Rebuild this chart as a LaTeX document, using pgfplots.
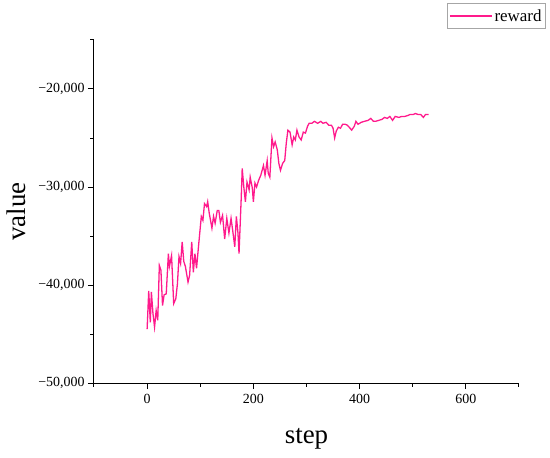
\documentclass[border=0pt]{standalone}
\usepackage{fontspec}
\setmainfont{Liberation Serif}
\usepackage{pgfplots}
\pgfplotsset{compat=1.18}
\definecolor{cReward}{HTML}{FF1A8C}

\begin{document}
\begin{tikzpicture}
\begin{axis}[
    name=ax,
    scale only axis,
    width=425bp, height=343bp,
    xmin=-100, xmax=700,
    ymin=-50000, ymax=-15000,
    axis lines=left,
    axis line style={-, line width=1pt},
    tick align=outside,
    major tick length=6bp,
    minor tick length=3.5bp,
    tick style={line width=1pt, black},
    xtick={0,200,400,600},
    minor xtick={-100,100,300,500,700},
    ytick={-50000,-40000,-30000,-20000},
    yticklabels={{−50,000},{−40,000},{−30,000},{−20,000}},
    scaled y ticks=false,
    minor ytick={-45000,-35000,-25000,-15000},
    /pgf/number format/assume math mode=true,
    ticklabel style={font=\fontsize{14}{16}\selectfont},
    xticklabel style={yshift=-2bp},
    xlabel={step},
    ylabel={value},
    label style={font=\fontsize{27}{30}\selectfont},
    xlabel style={at={(axis description cs:0.5,-0.175)}, anchor=base},
    ylabel style={at={(axis description cs:-0.162,0.5)}, anchor=base},
    legend style={at={(1.0635,1.108)}, anchor=north east,
        draw=gray!70, line width=0.8pt, font=\fontsize{17}{19}\selectfont,
        inner xsep=2bp, inner ysep=4bp},
    legend image code/.code={\draw[cReward, line width=1.3pt] (-2bp,0bp) -- (40bp,0bp);},
    clip=false,
]
\addplot[cReward, line width=1.3pt] coordinates {
(0,-44500) (3,-40600) (6,-43800) (8,-40700) (11,-42900) (14,-44300)
(17,-42600) (20,-43600) (23,-38000) (26,-38500) (29,-42100) (32,-41000)
(36,-40900) (40,-36800) (42,-38100) (46,-37000) (50,-41900) (54,-41400)
(57,-39900) (60,-37100) (63,-37800) (66,-35600) (69,-37600) (72,-38100)
(77,-39700) (80,-39000) (84,-35600) (87,-38700) (90,-36800) (93,-38300)
(97,-35900) (102,-33000) (105,-33400) (108,-31700) (112,-32000) (114,-31500)
(117,-32700) (122,-34200) (125,-33000) (128,-33700) (132,-32400) (135,-32400)
(138,-33600) (142,-32900) (146,-35300) (150,-33200) (154,-34700) (158,-33200)
(161,-34400) (165,-36100) (168,-33000) (171,-34700) (173,-36800) (177,-31300)
(179,-28100) (182,-30000) (185,-31500) (188,-29500) (192,-30300) (194,-29000)
(198,-30100) (200,-31500) (203,-29600) (206,-30000) (210,-29300) (214,-28800)
(219,-27800) (222,-28800) (226,-27300) (228,-28600) (231,-29000) (235,-25000)
(238,-25900) (241,-25400) (245,-26200) (248,-27600) (251,-28300) (255,-27600)
(259,-27300) (262,-25500) (265,-24200) (269,-24400) (273,-25700) (276,-24900)
(279,-25200) (282,-24200) (286,-24900) (290,-25200) (294,-24400) (298,-24500)
(302,-23800) (305,-23500) (310,-23500) (315,-23300) (321,-23500) (327,-23300)
(331,-23500) (337,-23400) (342,-23700) (347,-23700) (350,-24000) (353,-25000)
(356,-24300) (360,-23900) (364,-24000) (368,-23600) (373,-23600) (377,-23700)
(382,-24000) (385,-24200) (390,-23800) (393,-23300) (397,-23600) (403,-23400)
(409,-23300) (416,-23200) (421,-23000) (426,-23300) (430,-23300) (436,-23200)
(442,-23100) (447,-22900) (452,-23000) (457,-22800) (462,-23200) (467,-22800)
(474,-22900) (479,-22800) (485,-22800) (491,-22700) (495,-22600) (501,-22600)
(505,-22500) (510,-22600) (515,-22600) (520,-22900) (524,-22600) (530,-22600)
};
\addlegendentry{reward}
\end{axis}
\path (ax.south west) ++(-94bp,-75bp) rectangle ++(550bp,458bp);
\end{tikzpicture}
\end{document}
